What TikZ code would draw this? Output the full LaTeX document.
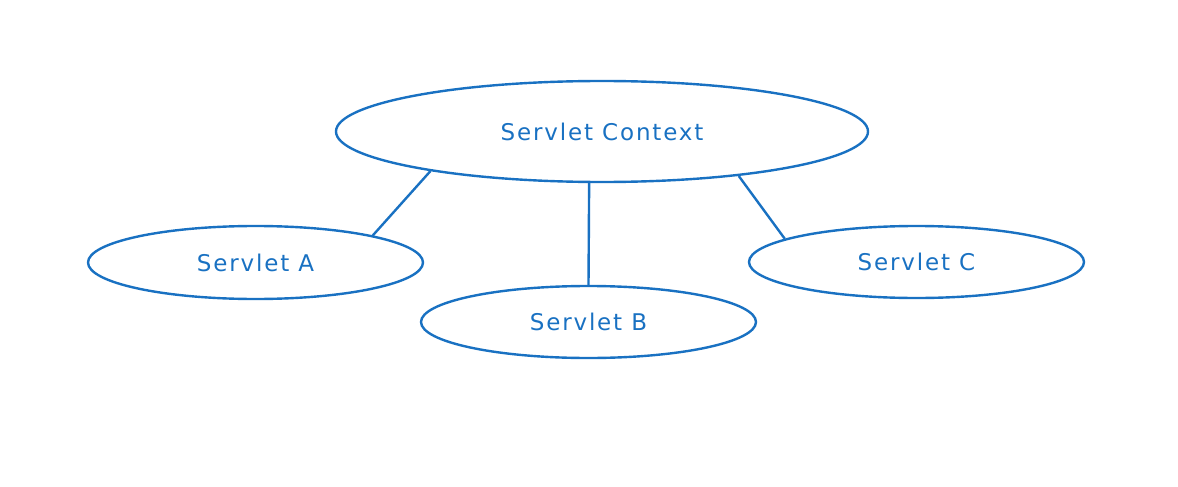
\documentclass[tikz,border=0pt]{standalone}
\usepackage{fontspec}
\setmainfont{DejaVu Sans}[LetterSpace=8]
\usetikzlibrary{shapes.geometric}
\definecolor{exblue}{HTML}{1971C2}
\tikzset{
  oval/.style={ellipse, draw=exblue, line width=2.4pt, inner sep=0pt, text=exblue,
    font=\fontsize{23}{26}\selectfont},
  link/.style={draw=exblue, line width=2.4pt}
}
\begin{document}
\begin{tikzpicture}[x=1pt,y=-1pt]
\useasboundingbox (0,0) rectangle (1178,487);
\node[oval, minimum width=532pt, minimum height=101pt] (ctx) at (602,131.5) {Servlet Context};
\node[oval, minimum width=335pt, minimum height=73pt] (a) at (255.5,262.5) {Servlet A};
\node[oval, minimum width=335pt, minimum height=72pt] (b) at (588.5,322) {Servlet B};
\node[oval, minimum width=335pt, minimum height=72pt] (c) at (916.5,262) {Servlet C};
\draw[link] (ctx.193.3) -- (a.13.5);
\draw[link] (ctx.256) -- (b.north);
\draw[link] (ctx.342.5) -- (c.170.8);
\end{tikzpicture}
\end{document}
